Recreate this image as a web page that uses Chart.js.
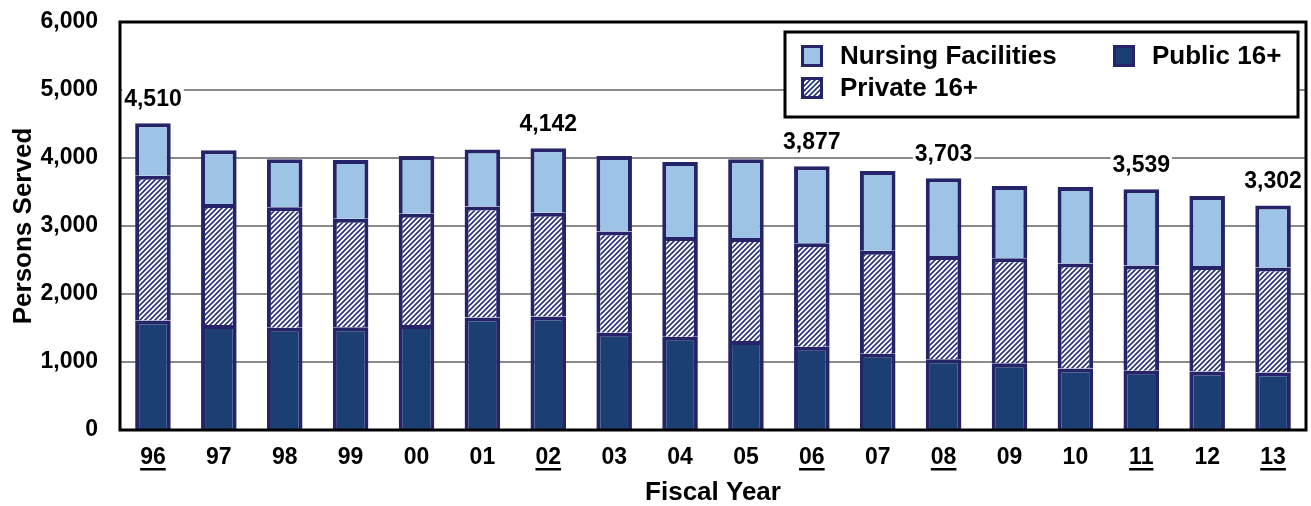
<!DOCTYPE html>
<html>
<head>
<meta charset="utf-8">
<script src="https://cdn.jsdelivr.net/npm/chart.js@4/dist/chart.umd.min.js"></script>
<style>
  html, body { margin: 0; padding: 0; background: #fff; }
  #wrap { width: 1311px; height: 506px; }
</style>
</head>
<body>
<div id="wrap"><canvas id="grafico"></canvas></div>
<script>
// fiscal years and persons served
const years = ['96', '97', '98', '99', '00', '01', '02', '03', '04', '05', '06', '07', '08', '09', '10', '11', '12', '13'];
const public16 = [1610, 1545, 1505, 1510, 1545, 1655, 1670, 1430, 1370, 1310, 1225, 1120, 1040, 980, 905, 870, 860, 845];
const private16 = [2130, 1780, 1770, 1595, 1635, 1630, 1525, 1490, 1470, 1515, 1520, 1515, 1520, 1545, 1545, 1550, 1550, 1545];
const nursing = [770, 790, 705, 865, 850, 840, 947, 1110, 1100, 1155, 1132, 1175, 1143, 1065, 1125, 1119, 1030, 912];
const labeledYears = ['96', '02', '06', '08', '11', '13'];
const yTicks = [0, 1000, 2000, 3000, 4000, 5000, 6000];

const FONT = "'Liberation Sans', Arial, sans-serif";
const NAVY = '#262468';

function hatchPattern() {
  const c = document.createElement('canvas');
  c.width = 5; c.height = 5;
  const g = c.getContext('2d');
  g.fillStyle = '#fff';
  g.fillRect(0, 0, 5, 5);
  g.strokeStyle = '#2B3778';
  g.lineWidth = 1.7;
  g.beginPath();
  g.moveTo(-1, 6); g.lineTo(6, -1);
  g.moveTo(-1, 1); g.lineTo(1, -1);
  g.moveTo(4, 6); g.lineTo(6, 4);
  g.stroke();
  return g.createPattern(c, 'repeat');
}
const hatch = hatchPattern();

const totals = years.map((y, i) => public16[i] + private16[i] + nursing[i]);

// totals over some bars, with white box behind, then the plot frame
const overlays = {
  id: 'overlays',
  afterDatasetsDraw(chart) {
    const ctx = chart.ctx;
    const xs = chart.scales.x, ys = chart.scales.y;
    ctx.save();
    ctx.font = 'bold 23px ' + FONT;
    ctx.textAlign = 'center';
    ctx.textBaseline = 'middle';
    labeledYears.forEach(y => {
      const i = years.indexOf(y);
      const txt = totals[i].toLocaleString('en-US');
      const px = xs.getPixelForValue(i);
      const py = ys.getPixelForValue(totals[i]) - 24;
      const w = ctx.measureText(txt).width;
      ctx.fillStyle = '#fff';
      ctx.fillRect(px - w / 2 - 2, py - 11, w + 4, 22);
      ctx.fillStyle = '#000';
      ctx.fillText(txt, px, py);
    });
    const a = chart.chartArea;
    ctx.strokeStyle = '#000';
    ctx.lineWidth = 3;
    ctx.strokeRect(a.left, a.top, a.right - a.left, a.bottom - a.top);
    ctx.restore();
  },
  afterDraw(chart) {
    const ctx = chart.ctx;
    const xs = chart.scales.x;
    ctx.save();
    // underline on the labeled years
    ctx.font = 'bold 23px ' + FONT;
    ctx.fillStyle = '#000';
    labeledYears.forEach(y => {
      const i = years.indexOf(y);
      const px = xs.getPixelForValue(i);
      const w = ctx.measureText(y).width;
      ctx.fillRect(px - w / 2, 468, w, 2.5);
    });
    // legend box
    ctx.fillStyle = '#fff';
    ctx.fillRect(785, 32, 513, 85);
    ctx.strokeStyle = '#000';
    ctx.lineWidth = 3;
    ctx.strokeRect(785, 32, 513, 85);
    const items = [
      { text: 'Nursing Facilities', fill: '#9DC3E6', x: 801, y: 45 },
      { text: 'Public 16+', fill: '#1B3F73', x: 1113, y: 45 },
      { text: 'Private 16+', fill: hatch, x: 801, y: 77 }
    ];
    ctx.font = 'bold 26px ' + FONT;
    ctx.textAlign = 'left';
    ctx.textBaseline = 'middle';
    items.forEach(it => {
      ctx.fillStyle = it.fill;
      ctx.fillRect(it.x, it.y, 22, 22);
      ctx.strokeStyle = NAVY;
      ctx.lineWidth = 3;
      ctx.strokeRect(it.x + 1.5, it.y + 1.5, 19, 19);
      ctx.fillStyle = '#000';
      ctx.fillText(it.text, it.x + 39, it.y + 12);
    });
    ctx.restore();
  }
};

const ctx = document.getElementById('grafico').getContext('2d');

const chart = new Chart(ctx, {
  type: 'bar',
  data: {
    labels: years,
    datasets: [
      { label: 'Public 16+', data: public16, backgroundColor: '#1B3F73' },
      { label: 'Private 16+', data: private16, backgroundColor: hatch },
      { label: 'Nursing Facilities', data: nursing, backgroundColor: '#9DC3E6' }
    ]
  },
  options: {
    responsive: true,
    maintainAspectRatio: false,
    animation: false,
    datasets: {
      bar: {
        borderColor: NAVY,
        borderWidth: 4,
        categoryPercentage: 1,
        barPercentage: 0.54
      }
    },
    layout: { padding: { top: 22, right: 5, left: 0, bottom: 0 } },
    plugins: {
      legend: { display: false },
      tooltip: { enabled: false }
    },
    scales: {
      x: {
        stacked: true,
        grid: { display: false, drawTicks: false },
        border: { display: false },
        ticks: {
          color: '#000',
          font: { family: FONT, size: 23, weight: 'bold' },
          padding: 14,
          autoSkip: false,
          maxRotation: 0
        },
        title: {
          display: true,
          text: 'Fiscal Year',
          color: '#000',
          font: { family: FONT, size: 26, weight: 'bold', lineHeight: 1 },
          padding: { top: 0, bottom: 0 }
        },
        afterFit: s => { s.height = 76; }
      },
      y: {
        stacked: true,
        min: 0,
        max: 6000,
        afterBuildTicks: s => { s.ticks = yTicks.map(v => ({ value: v })); },
        grid: { color: '#8A8A8A', lineWidth: 2, drawTicks: false },
        border: { display: false },
        ticks: {
          color: '#000',
          font: { family: FONT, size: 23, weight: 'bold' },
          padding: 22,
          callback: v => v.toLocaleString('en-US')
        },
        title: {
          display: true,
          text: 'Persons Served',
          color: '#000',
          font: { family: FONT, size: 26, weight: 'bold' },
          padding: { top: 8, bottom: 0 }
        },
        afterFit: s => { s.width = 120; s.paddingTop = 14; s.paddingBottom = 14; }
      }
    }
  },
  plugins: [overlays]
});
</script>
</body>
</html>
